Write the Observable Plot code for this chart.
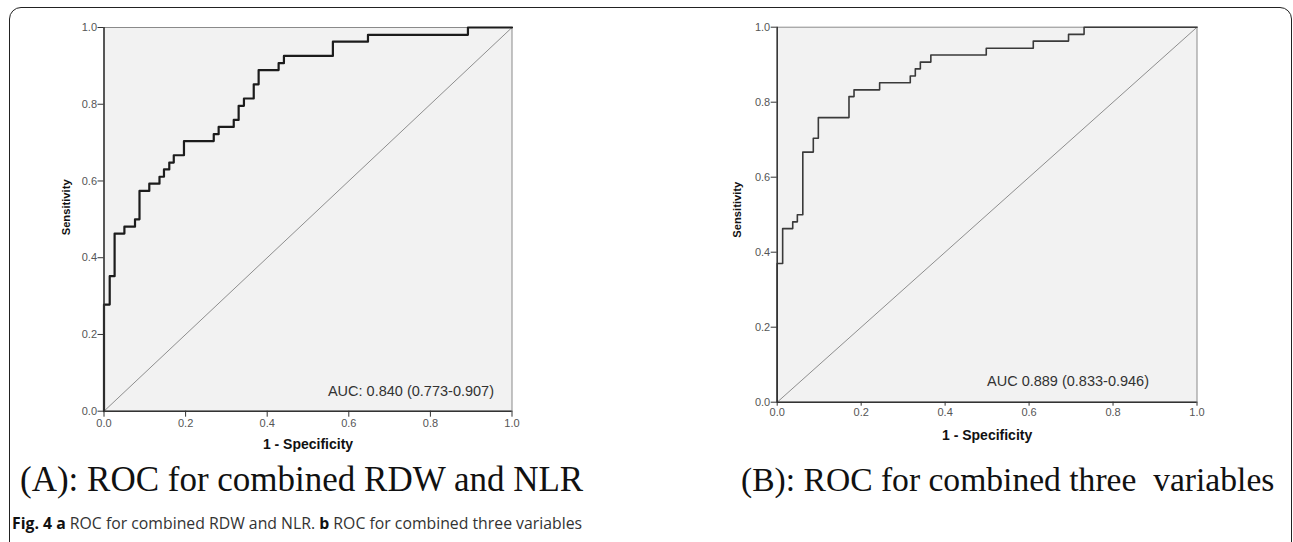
<!DOCTYPE html>
<html>
<head>
<meta charset="utf-8">
<script src="https://cdn.jsdelivr.net/npm/d3@7"></script>
<script src="https://cdn.jsdelivr.net/npm/@observablehq/plot@0.6"></script>
<style>
  html, body { margin: 0; padding: 0; background: #fff; }
  #page { position: relative; width: 1293px; height: 542px; overflow: hidden; background: #fff; }
  .border { position: absolute; left: 9px; top: 7px; width: 1283px; height: 560px; border: 1.5px solid #222; border-radius: 12px; box-sizing: border-box; }
  .plot { position: absolute; top: 0; }
  .cap { position: absolute; font-family: "Liberation Serif", "Times New Roman", serif; line-height: 1; color: #111; white-space: pre; }
  .fig { position: absolute; left: 12px; top: 516px; font-family: "Open Sans", sans-serif; font-size: 15.8px; line-height: 1; color: #333; white-space: pre; }
  .fig b { color: #111; }
</style>
</head>
<body>
<div id="page">
  <div class="border"></div>
  <div id="plotA" class="plot" style="left:0px"></div>
  <div id="plotB" class="plot" style="left:700px"></div>
  <div class="cap" style="left:20px; top:462px; font-size:35px">(A): ROC for combined RDW and NLR</div>
  <div class="cap" style="left:741px; top:463px; font-size:33.6px">(B): ROC for combined three  variables</div>
  <div class="fig"><b>Fig. 4</b> <b>a</b> ROC for combined RDW and NLR. <b>b</b> ROC for combined three variables</div>
</div>
<script>
// Axis ticks and labels
const ticks = [0, 0.2, 0.4, 0.6, 0.8, 1.0];
const xLabel = "1 - Specificity";
const yLabel = "Sensitivity";
const diagonal = [0, 1];

// (A) ROC for combined RDW and NLR — corner points of the step curve
const fprA = [0, 0, 0.014, 0.026, 0.050, 0.076, 0.087, 0.111, 0.136, 0.147, 0.160, 0.171, 0.196, 0.269, 0.281, 0.318, 0.330, 0.343, 0.367, 0.379, 0.428, 0.441, 0.561, 0.647, 0.892, 1.0];
const tprA = [0, 0.278, 0.352, 0.463, 0.481, 0.500, 0.574, 0.593, 0.611, 0.630, 0.648, 0.667, 0.704, 0.722, 0.741, 0.759, 0.796, 0.815, 0.852, 0.889, 0.907, 0.926, 0.963, 0.981, 1.0, 1.0];
const aucA = "AUC: 0.840 (0.773-0.907)";

// (B) ROC for combined three variables
const fprB = [0, 0, 0.013, 0.037, 0.048, 0.061, 0.086, 0.098, 0.171, 0.183, 0.244, 0.317, 0.329, 0.341, 0.366, 0.498, 0.610, 0.694, 0.731, 1.0];
const tprB = [0, 0.370, 0.463, 0.481, 0.500, 0.667, 0.704, 0.759, 0.815, 0.833, 0.852, 0.870, 0.889, 0.907, 0.926, 0.944, 0.963, 0.981, 1.0, 1.0];
const aucB = "AUC 0.889 (0.833-0.946)";

function rocChart(fpr, tpr, auc, o) {
  const roc = fpr.map((x, i) => ({fpr: x, tpr: tpr[i]}));
  return Plot.plot({
    width: o.width, height: o.height,
    marginLeft: o.ml, marginRight: o.mr, marginTop: o.mt, marginBottom: o.mb,
    x: {domain: [0, 1]},
    y: {domain: [0, 1]},
    style: {fontFamily: "'Liberation Sans', Arial, sans-serif", fontSize: "11px", background: "transparent", overflow: "visible"},
    marks: [
      Plot.frame({fill: "#f2f2f2", stroke: "#8a8a8a", strokeWidth: 1}),
      Plot.line(diagonal, {x: d => d, y: d => d, stroke: "#8e8e8e", strokeWidth: 1}),
      Plot.line(roc, {x: "fpr", y: "tpr", curve: "step-after", stroke: o.curveColor, strokeWidth: o.curveWidth}),
      Plot.ruleX([0], {stroke: "#333", strokeWidth: 1.5}),
      Plot.ruleY([0], {stroke: "#333", strokeWidth: 1.5}),
      Plot.axisX({ticks, tickFormat: d3.format(".1f"), tickSize: o.xTick, tickPadding: 2, label: null, fontSize: 11, stroke: "#333", fill: "#555"}),
      Plot.axisY({ticks, tickFormat: d3.format(".1f"), tickSize: 6, tickPadding: 1, label: null, fontSize: 11, stroke: "#333", fill: "#555"}),
      Plot.text([xLabel], {text: d => d, frameAnchor: "bottom", dy: 33, textAnchor: "middle", lineAnchor: "middle", fontWeight: "bold", fontSize: 14, fill: "#111"}),
      Plot.text([yLabel], {text: d => d, frameAnchor: "left", dx: -o.yLabelOff, dy: o.yLabelDy, rotate: -90, textAnchor: "middle", lineAnchor: "middle", fontWeight: "bold", fontSize: 11.2, fill: "#111"}),
      Plot.text([auc], {text: d => d, frameAnchor: "bottom-right", dx: -o.aucDx, dy: -o.aucDy, textAnchor: "end", lineAnchor: "middle", fontSize: 14.5, fill: "#333"})
    ]
  });
}

document.getElementById("plotA").appendChild(rocChart(fprA, tprA, aucA, {
  width: 530, height: 460, ml: 103.5, mr: 18.5, mt: 27, mb: 49.3,
  curveColor: "#1c1c1c", curveWidth: 2.2, xTick: 6, yLabelOff: 37.5, yLabelDy: -12, aucDx: 18, aucDy: 20
}));
document.getElementById("plotB").appendChild(rocChart(fprB, tprB, aucB, {
  width: 520, height: 450, ml: 76.7, mr: 23.5, mt: 26.7, mb: 48.3,
  curveColor: "#3a3a3a", curveWidth: 1.6, xTick: 4, yLabelOff: 40, yLabelDy: -5, aucDx: 48, aucDy: 21
}));
</script>
</body>
</html>
